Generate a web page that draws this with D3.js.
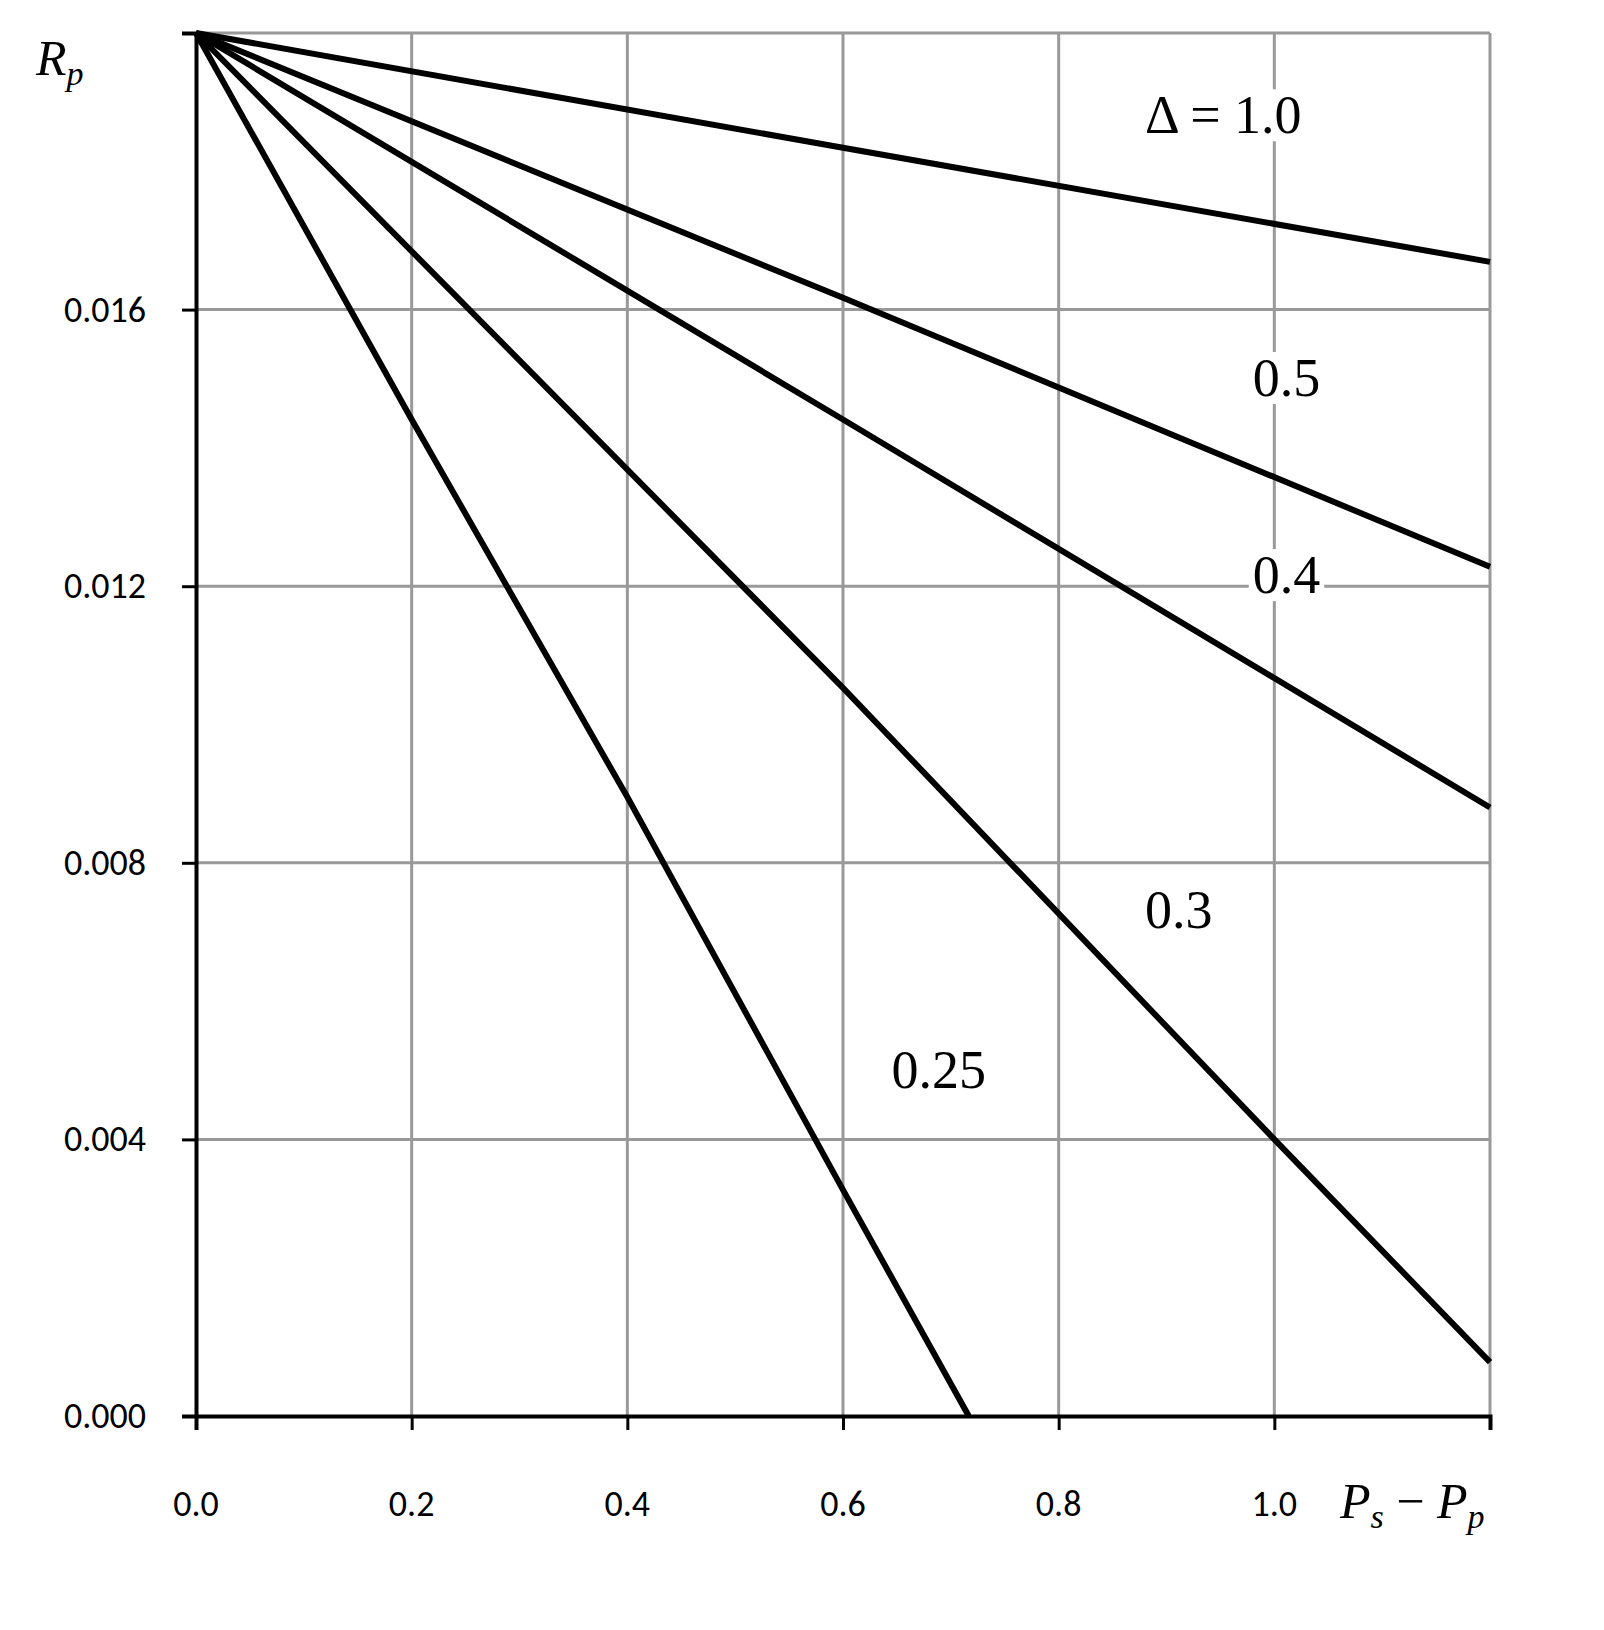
<!DOCTYPE html>
<html><head><meta charset="utf-8">
<script src="https://cdn.jsdelivr.net/npm/d3@7"></script>
<style>body{margin:0;background:#fff}</style></head>
<body><svg id="c" width="1604" height="1630"></svg>
<script>
const xTicks=[0,0.2,0.4,0.6,0.8,1.0];
const xGrid=[0.2,0.4,0.6,0.8,1.0,1.2];
const yTicks=[0,0.004,0.008,0.012,0.016];
const yGrid=[0.004,0.008,0.012,0.016,0.02];
const seriesNames=["1.0","0.5","0.4","0.3","0.25"];
const seriesX=[[0,0.6,1.2],[0,0.6,1.2],[0,0.6,1.2],[0,0.6,1.0,1.2],[0,0.2,0.4,0.6,0.7166]];
const seriesY=[[0.02,0.01834,0.01669],[0.02,0.01617,0.01228],[0.02,0.01441,0.0088],[0.02,0.01053,0.004,0.00078],[0.02,0.01441,0.00895,0.00327,0]];
const labels=[{t:"Δ = 1.0",x:0.88,y:0.01855},{t:"0.5",x:0.98,y:0.01475},{t:"0.4",x:0.98,y:0.0119},{t:"0.3",x:0.88,y:0.00705},{t:"0.25",x:0.645,y:0.00475}];

const svg=d3.select("#c");
const x=d3.scaleLinear().domain([0,1.2]).range([196,1490]);
const y=d3.scaleLinear().domain([0,0.02]).range([1416,33]);
const g=svg.append("g");
g.selectAll(".vg").data(xGrid).join("line").attr("x1",d=>x(d)).attr("x2",d=>x(d)).attr("y1",y(0)).attr("y2",y(0.02)).attr("stroke","#999").attr("stroke-width",3);
g.selectAll(".hg").data(yGrid).join("line").attr("x1",x(0)).attr("x2",x(1.2)).attr("y1",d=>y(d)).attr("y2",d=>y(d)).attr("stroke","#999").attr("stroke-width",3);
const labelLayer=svg.append("g");
const line=d3.line().x(d=>x(d[0])).y(d=>y(d[1]));
seriesX.forEach((xs,i)=>{
  g.append("path").attr("d",line(xs.map((v,j)=>[v,seriesY[i][j]]))).attr("fill","none").attr("stroke","#000").attr("stroke-width",6);
});
const ax=svg.append("g").attr("transform",`translate(0,${y(0)})`).call(d3.axisBottom(x).tickValues([0,0.2,0.4,0.6,0.8,1.0,1.2]).tickSize(14).tickFormat(""));
const ay=svg.append("g").attr("transform",`translate(${x(0)},0)`).call(d3.axisLeft(y).tickValues([0,0.004,0.008,0.012,0.016,0.02]).tickSize(14).tickFormat(""));
[ax,ay].forEach(a=>{a.selectAll("path").attr("stroke","#000").attr("stroke-width",4);a.selectAll("line").attr("stroke","#000").attr("stroke-width",3);});
svg.selectAll(".xl").data(xTicks).join("text").attr("x",d=>x(d)).attr("y",1516).attr("text-anchor","middle").attr("font-family","Carlito, 'Liberation Sans', sans-serif").attr("font-size",36).text(d=>d.toFixed(1));
svg.selectAll(".yl").data(yTicks).join("text").attr("x",146).attr("y",d=>y(d)+12).attr("text-anchor","end").attr("font-family","Carlito, 'Liberation Sans', sans-serif").attr("font-size",36).text(d=>d.toFixed(3));
labels.forEach(l=>{
  const lg=labelLayer.append("g");
  const r=lg.append("rect").attr("fill","#fff");
  const t=lg.append("text").attr("x",x(l.x)).attr("y",y(l.y)).attr("font-family","'Liberation Serif', serif").attr("font-size",54).text(l.t);
  const b=t.node().getBBox();
  r.attr("x",b.x-4).attr("y",b.y+4).attr("width",b.width+8).attr("height",b.height-8);
});
labelLayer.raise();
const ser="'Liberation Serif', serif";
const rp=svg.append("text").attr("x",36).attr("y",75).attr("font-family",ser).attr("font-style","italic").attr("font-size",50);
rp.append("tspan").text("R");rp.append("tspan").attr("font-size",34).attr("dy",10).text("p");
const ps=svg.append("text").attr("x",1340).attr("y",1518).attr("font-family",ser).attr("font-style","italic").attr("font-size",50);
ps.append("tspan").text("P");ps.append("tspan").attr("font-size",34).attr("dy",10).text("s");
ps.append("tspan").attr("dy",-10).attr("font-style","normal").text(" − ");
ps.append("tspan").text("P");ps.append("tspan").attr("font-size",34).attr("dy",10).text("p");
</script></body></html>
